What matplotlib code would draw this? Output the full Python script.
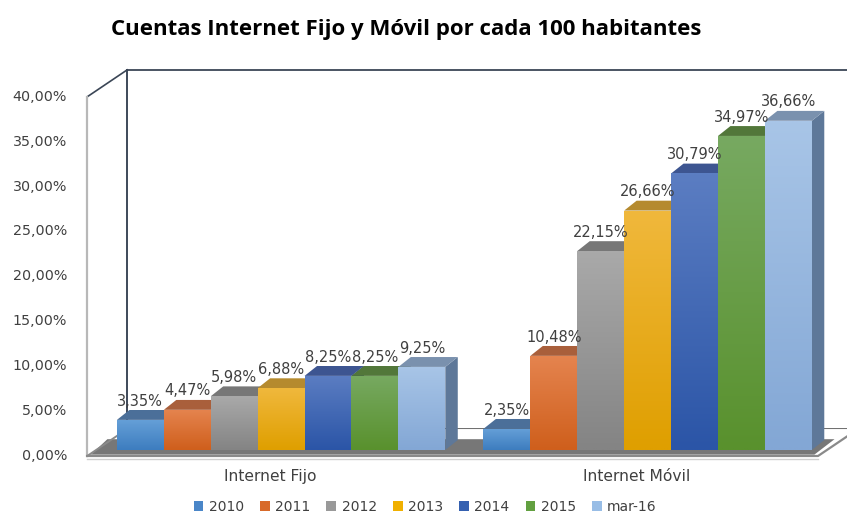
import numpy as np
import matplotlib.pyplot as plt
from matplotlib.patches import Polygon, Patch
from matplotlib.colors import to_rgb

categories = ['Internet Fijo', 'Internet Móvil']
years = ['2010', '2011', '2012', '2013', '2014', '2015', 'mar-16']
fijo = [3.35, 4.47, 5.98, 6.88, 8.25, 8.25, 9.25]
movil = [2.35, 10.48, 22.15, 26.66, 30.79, 34.97, 36.66]
ticks = [0, 5, 10, 15, 20, 25, 30, 35, 40]

# front face gradient (top, bottom) and top face colour per series
front_top = ['#66a0d8', '#e5844f', '#a9a9a9', '#f0b83c', '#5b7dc2', '#77a961', '#a8c5e7']
front_bot = ['#3d7dbf', '#cf5f1c', '#848484', '#df9f00', '#2b55a7', '#59912d', '#83a7d5']
top_col = ['#4b6f99', '#a95f3b', '#777777', '#b58a2e', '#3d5591', '#52773a', '#7a91ae']
legend_col = ['#4a86c8', '#d86a2a', '#999999', '#f0b000', '#3560b0', '#62a040', '#98bde6']

def fmt(v):
    return f"{v:.2f}".replace('.', ',') + '%'

def darker(c, f):
    return tuple(np.array(to_rgb(c)) * f)

def gradient_fill(ax, patch, c1, c2, x0, x1, y0, y1, z):
    a = np.array(to_rgb(c1))
    b = np.array(to_rgb(c2))
    t = np.linspace(0, 1, 64)[:, None]
    img = (a * (1 - t) + b * t)[:, None, :]
    im = ax.imshow(img, extent=[x0, x1, y0, y1], origin='upper', aspect='auto',
                   interpolation='bilinear', zorder=z)
    im.set_clip_path(patch)

fig = plt.figure(figsize=(8.47, 5.13), dpi=100)
ax = fig.add_axes([0, 0, 1, 1])
ax.axis('off')

w = 0.128        # bar width (category units)
ddx, ddy = 0.034, 1.1   # bar depth
wdx, wdy = 0.109, 3.0   # wall depth
xl, xr = -0.529, 1.465  # front floor edge
fy = -0.67              # front floor level

# back wall and floor
ax.plot([xl + wdx, 2.0], [40 + wdy - 0.67, 40 + wdy - 0.67], color='#3b4656', lw=1.3, zorder=1)
ax.plot([xl + wdx, xl + wdx], [fy + wdy, 40 + wdy - 0.67], color='#2f3a4c', lw=1.3, zorder=1)
ax.plot([xl, xl + wdx], [40 - 0.67, 40 + wdy - 0.67], color='#3b4656', lw=1.2, zorder=1)
ax.plot([xl, xl], [fy, 40 - 0.67], color='#b8b8b8', lw=1.6, zorder=1)
ax.plot([xl + wdx, 2.0], [fy + wdy, fy + wdy], color='#555555', lw=1.2, zorder=1)
ax.plot([xl + wdx, 2.0], [fy + wdy - 0.2, fy + wdy - 0.2], color='#dddddd', lw=1.0, zorder=1)
floor = Polygon([(xl, fy), (xr, fy), (xr + wdx, fy + wdy), (xl + wdx, fy + wdy)],
                closed=True, facecolor='white', edgecolor='none', zorder=1.5)
ax.add_patch(floor)
shadow = Polygon([(xl + 0.01, fy + 0.15), (xr - 0.01, fy + 0.15), (xr + 0.045, 1.2), (xl + 0.055, 1.2)],
                 closed=True, facecolor='#777777', edgecolor='none', zorder=1.6)
ax.add_patch(shadow)
ax.plot([xl, xr, xr + wdx], [fy, fy, fy + wdy], color='#8a8a8a', lw=1.6, zorder=1.7)
ax.plot([xl, xl + wdx], [fy, fy + wdy], color='#8a8a8a', lw=1.4, zorder=1.7)
ax.plot([xl, xr], [fy - 0.35, fy - 0.35], color='#cfcfcf', lw=1.0, zorder=1.7)

z = 2
for ci, vals in enumerate([fijo, movil]):
    for i, v in enumerate(vals):
        x0 = ci + (i - 3.5) * w
        x1 = x0 + w
        # right side face
        side = Polygon([(x1, 0), (x1 + ddx, ddy), (x1 + ddx, v + ddy), (x1, v)],
                       closed=True, facecolor=darker(front_bot[i], 0.72), edgecolor='none', zorder=z)
        ax.add_patch(side)
        # top face
        top = Polygon([(x0, v), (x1, v), (x1 + ddx, v + ddy), (x0 + ddx, v + ddy)],
                      closed=True, facecolor=top_col[i], edgecolor='none', zorder=z + 0.1)
        ax.add_patch(top)
        # front face with gradient
        bars = ax.bar(x0, v, width=w, align='edge', color=front_bot[i], edgecolor='none', zorder=z + 0.2)
        gradient_fill(ax, bars[0], front_top[i], front_bot[i], x0, x1, 0, v, z + 0.3)
        z += 1
        ax.text(x0 + w / 2, v + 2.1, fmt(v), ha='center', va='center', fontsize=10.5,
                color='#404040', zorder=100)

for t in ticks:
    ax.text(-0.584, t - 0.67, fmt(t), ha='right', va='center', fontsize=10.3, color='#404040')

for ci, c in enumerate(categories):
    ax.text(ci - 0.03, -3.0, c, ha='center', va='center', fontsize=11.2, color='#404040')

ax.set_xlim(-0.767, 1.544)
ax.set_ylim(-7.02, 50.11)

fig.text(0.48, 0.943, 'Cuentas Internet Fijo y Móvil por cada 100 habitantes',
         ha='center', va='center', fontsize=16, fontweight='bold', family='Open Sans', color='black')

handles = [Patch(facecolor=legend_col[i], edgecolor='none', label=years[i]) for i in range(len(years))]
fig.legend(handles=handles, loc='center', bbox_to_anchor=(0.502, 0.012), ncol=7, frameon=False,
           fontsize=10, handlelength=0.7, handleheight=0.7, handletextpad=0.4, columnspacing=1.15,
           labelcolor='#404040')

fig.savefig('out.png', dpi=100)
